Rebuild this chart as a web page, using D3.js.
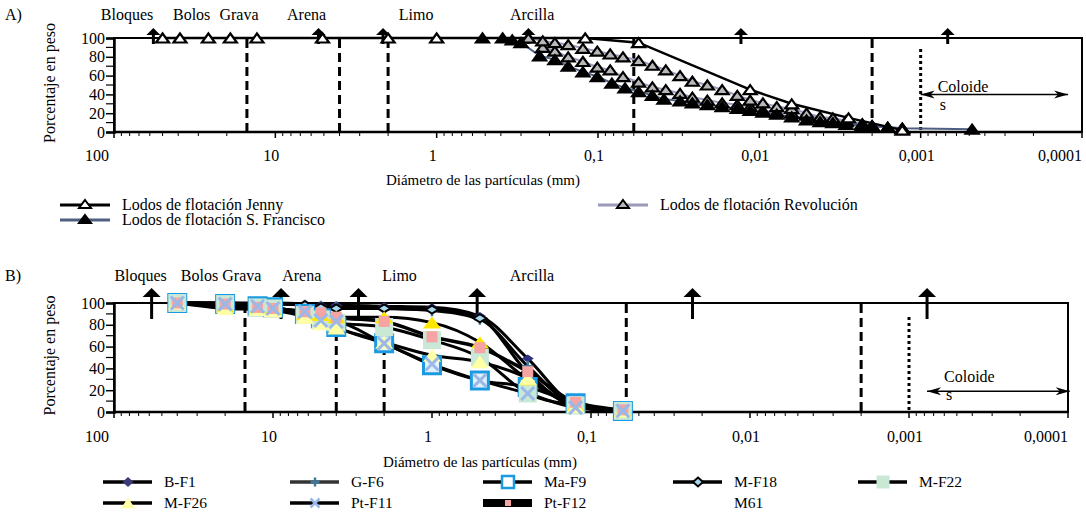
<!DOCTYPE html>
<html><head><meta charset="utf-8">
<script src="https://cdn.jsdelivr.net/npm/d3@7"></script>
<style>body{margin:0;background:#fff}svg{display:block;font-family:"Liberation Serif","Times New Roman",serif}text{font-family:"Liberation Serif","Times New Roman",serif;fill:#000}</style>
</head><body><svg id="c" width="1086" height="515"></svg>
<script>
// ---------- data ----------
const tickValues = [100, 10, 1, 0.1, 0.01, 0.001, 0.0001];
const tickLabels = ["100", "10", "1", "0,1", "0,01", "0,001", "0,0001"];
const yTicks = [0, 20, 40, 60, 80, 100];
const yMinorTicks = [10, 30, 50, 70, 90];

const zoneNames = ["Bloques", "Bolos", "Grava", "Arena", "Limo", "Arcilla"];
const zoneDiamA = [83, 33, 16.8, 6.4, 1.34, 0.256];
const zoneDiamB = [68, 29, 15.7, 6.6, 1.6, 0.235];
const boundaryDiam = [15, 4, 2, 0.06, 0.002];
const colloidDiam = 0.001;
const arrowDiamA = [57, 5.4, 2.15, 0.27, 0.013, 0.00068];
const arrowDiamB = [58, 8.9, 2.9, 0.52, 0.023, 0.00077];

// Panel A series
const jennyD = [50, 39, 26, 19, 13, 5.1, 2, 1, 0.12, 0.056, 0.0114, 0.0063, 0.0028, 0.0013];
const jennyP = [100, 100, 100, 100, 100, 100, 100, 100, 100, 95, 45, 30, 15, 2];
const revD = [0.27, 0.22, 0.185, 0.153, 0.124, 0.101, 0.084, 0.07, 0.056, 0.046, 0.038, 0.031, 0.026, 0.021, 0.017, 0.0137, 0.0114, 0.0095, 0.0078, 0.0063, 0.0051, 0.0042, 0.0035, 0.0029, 0.0023, 0.002, 0.0016, 0.0013];
const revP = [100, 97, 95, 93, 89, 86, 83, 80, 76, 71, 66, 60, 54, 50, 45, 39, 34, 31, 27, 25, 20, 16, 15, 12, 9, 7, 5, 4];
const rev2P = [100, 90, 86, 80, 75, 69, 66, 59, 53, 48, 45, 41, 37, 34, 31, 29, 27, 23, 21, 20, 18, 15, 13, 11, 8, 6, 5, 3];
const sfD = [0.52, 0.39, 0.34, 0.30, 0.23, 0.185, 0.153, 0.124, 0.101, 0.082, 0.068, 0.056, 0.046, 0.039, 0.031, 0.026, 0.021, 0.017, 0.0137, 0.0114, 0.0095, 0.0078, 0.0063, 0.0051, 0.0042, 0.0035, 0.0029, 0.0023, 0.002, 0.0016, 0.0013, 0.00048];
const sfP = [100, 100, 98, 95, 81, 77, 70, 64, 59, 52, 47, 43, 39, 35, 33, 31, 29, 27, 25, 23, 21, 19, 16, 13, 11, 10, 8, 7, 6, 5, 4, 3];

// Panel B series
const sievesB = [40, 20, 12.5, 10, 6.3, 5, 4, 2, 1, 0.5, 0.25, 0.125, 0.063];
const bNames = ["B-F1", "G-F6", "Ma-F9", "M-F18", "M-F22", "M-F26", "Pt-F11", "Pt-F12", "M61"];
const bF1 = [100, 100, 100, 100, 99, 98, 98, 97, 96, 88, 49, 7, 1];
const gF6 = [100, 100, 99, 99, 98, 97, 96, 95, 93, 85, 42, 6, 1];
const maF9 = [100, 99, 97, 96, 90, 86, 78, 63, 43, 29, 23, 8, 1];
const mF18 = [100, 100, 99, 99, 98, 96, 95, 95, 94, 86, 36, 5, 1];
const mF22 = [100, 99, 96, 95, 89, 85, 82, 78, 66, 50, 17, 6, 1];
const mF26 = [100, 95, 94, 93, 87, 81, 77, 64, 52, 46, 31, 5, 1];
const ptF11 = [100, 99, 97, 95, 92, 84, 83, 63, 44, 29, 17, 4, 1];
const ptF12 = [100, 99, 96, 95, 92, 91, 87, 83, 69, 59, 37, 9, 2];
const m61 = [100, 97, 95, 94, 90, 89, 87, 87, 82, 64, 30, 6, 1];

// ---------- drawing ----------
const svg = d3.select("#c");
const SERIF = '"Liberation Serif","Times New Roman",serif';

function triPath(w, h) { return `M0,${-h / 2}L${w / 2},${h / 2}L${-w / 2},${h / 2}Z`; }
function sqPath(s) { return `M${-s / 2},${-s / 2}h${s}v${s}h${-s}Z`; }
function diaPath(w, h) { return `M0,${-h / 2}L${w / 2},0L0,${h / 2}L${-w / 2},0Z`; }
function plusPath(s) { return `M${-s / 2},0H${s / 2}M0,${-s / 2}V${s / 2}`; }
function xPath(s) { return `M${-s / 2},${-s / 2}L${s / 2},${s / 2}M${s / 2},${-s / 2}L${-s / 2},${s / 2}`; }

function drawFrame(g, x, y, cfg) {
  const [x0, x1] = x.range();
  const [yb, yt] = y.range();
  g.append("rect").attr("x", x0).attr("y", yt).attr("width", x1 - x0).attr("height", yb - yt)
    .attr("fill", "none").attr("stroke", "#000").attr("stroke-width", 2);
  const ya = g.append("g").attr("transform", `translate(${x0},0)`)
    .call(d3.axisLeft(y).tickValues(yTicks).tickSize(8).tickPadding(1).tickFormat(d3.format("d")));
  ya.attr("font-family", SERIF);
  ya.select(".domain").attr("stroke-width", 2.5);
  ya.selectAll(".tick line").attr("stroke-width", 1.5);
  ya.selectAll("text").style("font-size", "16px").style("font-family", SERIF);
  g.append("g").selectAll("line").data(yMinorTicks).join("line")
    .attr("x1", x0 - 8).attr("x2", x0).attr("y1", d => y(d)).attr("y2", d => y(d))
    .attr("stroke", "#000").attr("stroke-width", 1.2);
  g.append("line").attr("x1", x0).attr("x2", x1).attr("y1", yb).attr("y2", yb)
    .attr("stroke", "#000").attr("stroke-width", 2.5);
  const minor = [];
  tickValues.forEach((t, i) => {
    if (i < tickValues.length - 1) for (let k = 2; k <= 9; k++) minor.push(t / 10 * k);
  });
  g.append("g").selectAll("line").data(minor).join("line")
    .attr("x1", d => x(d)).attr("x2", d => x(d)).attr("y1", yb).attr("y2", yb + 4)
    .attr("stroke", "#000").attr("stroke-width", 1);
  g.append("g").selectAll("line").data(tickValues).join("line")
    .attr("x1", d => x(d)).attr("x2", d => x(d)).attr("y1", yb).attr("y2", yb + 6)
    .attr("stroke", "#000").attr("stroke-width", 1.5);
  g.append("g").selectAll("text").data(tickValues).join("text")
    .attr("x", (d, i) => i === 0 ? x(d) - 5 : (i === tickValues.length - 1 ? x(d) : x(d) - 4))
    .attr("y", yb + cfg.tickLabelDy)
    .attr("text-anchor", (d, i) => (i === 0 || i === tickValues.length - 1) ? "end" : "middle")
    .style("font-size", "16px").text((d, i) => tickLabels[i]);
  g.append("text").attr("x", cfg.xTitleX).attr("y", cfg.xTitleY).attr("text-anchor", "middle")
    .style("font-size", "15px").text("Diámetro de las partículas (mm)");
  g.append("text").attr("transform", `translate(${cfg.yTitleX},${(yb + yt) / 2 - 2}) rotate(-90)`)
    .attr("text-anchor", "middle").style("font-size", "16px").text("Porcentaje en peso");
  g.append("text").attr("x", 5).attr("y", cfg.letterY).style("font-size", "16px").text(cfg.letter);
  g.append("g").selectAll("text").data(zoneNames).join("text")
    .attr("x", (d, i) => x(cfg.zoneDiam[i])).attr("y", cfg.letterY).attr("text-anchor", "middle")
    .style("font-size", "16px").text(d => d);
  g.append("g").selectAll("line").data(boundaryDiam).join("line")
    .attr("x1", d => x(d)).attr("x2", d => x(d)).attr("y1", yt + 1).attr("y2", yb)
    .attr("stroke", "#000").attr("stroke-width", 3).attr("stroke-dasharray", "9,5");
  g.append("line").attr("x1", x(colloidDiam)).attr("x2", x(colloidDiam))
    .attr("y1", yt + cfg.dotTop).attr("y2", yb).attr("stroke", "#000").attr("stroke-width", 3)
    .attr("stroke-dasharray", "3,3");
}

function drawArrows(g, x, diams, tipY, baseY, stemY, hw) {
  const a = g.append("g").selectAll("g").data(diams).join("g")
    .attr("transform", d => `translate(${x(d)},0)`);
  a.append("line").attr("x1", 0).attr("x2", 0).attr("y1", baseY - 1).attr("y2", stemY)
    .attr("stroke", "#000").attr("stroke-width", 3);
  a.append("path").attr("d", `M0,${tipY}L${hw},${baseY}L${-hw},${baseY}Z`).attr("fill", "#000");
}

function drawColloid(g, x, y, d0, d1, p, textY, sY) {
  const xa = x(d0), xb = x(d1), yy = y(p);
  g.append("line").attr("x1", xa).attr("x2", xb).attr("y1", yy).attr("y2", yy)
    .attr("stroke", "#000").attr("stroke-width", 1.5);
  g.append("path").attr("d", `M${xa},${yy}L${xa + 14},${yy - 4}L${xa + 10},${yy}L${xa + 14},${yy + 4}Z`);
  g.append("path").attr("d", `M${xb},${yy}L${xb - 14},${yy - 4}L${xb - 10},${yy}L${xb - 14},${yy + 4}Z`);
  g.append("text").attr("x", xa + 17).attr("y", textY).style("font-size", "16px").text("Coloide");
  g.append("text").attr("x", xa + 19).attr("y", sY).style("font-size", "16px").text("s");
}

// ---------- Panel A ----------
const xA = d3.scaleLog().domain([100, 0.0001]).range([114, 1082]);
const yA = d3.scaleLinear().domain([0, 100]).range([132, 38]);
const gA = svg.append("g");
drawFrame(gA, xA, yA, { tickLabelDy: 29, xTitleX: 483, xTitleY: 185, yTitleX: 55, letter: "A)", letterY: 20, zoneDiam: zoneDiamA, dotTop: 11 });
drawArrows(gA, xA, arrowDiamA, 28, 35, 44, 7);

const seriesA = [
  { d: revD, p: rev2P, line: "#9a9abb", lw: 2, fill: "#b8b8b8", stroke: "#000" },
  { d: revD, p: revP, line: "#9a9abb", lw: 2, fill: "#b8b8b8", stroke: "#000" },
  { d: sfD, p: sfP, line: "#4e5f82", lw: 2, fill: "#000", stroke: "#000" },
  { d: jennyD, p: jennyP, line: "#000", lw: 2.5, fill: "#fff", stroke: "#000" }
];
const lineA = d3.line().x(d => xA(d[0])).y(d => yA(d[1]));
seriesA.forEach(s => {
  gA.append("path").attr("d", lineA(s.d.map((v, i) => [v, s.p[i]])))
    .attr("fill", "none").attr("stroke", s.line).attr("stroke-width", s.lw);
});
seriesA.forEach(s => {
  gA.append("g").selectAll("path").data(s.d.map((v, i) => [v, s.p[i]])).join("path")
    .attr("transform", d => `translate(${xA(d[0])},${yA(d[1])})`)
    .attr("d", triPath(13, 9)).attr("fill", s.fill).attr("stroke", s.stroke).attr("stroke-width", 2.2);
});
drawColloid(gA, xA, yA, colloidDiam, 0.000122, 40, 92, 110);

const legA = [
  { name: "Lodos de flotación Jenny", x: 60, y: 205, line: "#000", fill: "#fff" },
  { name: "Lodos de flotación S. Francisco", x: 60, y: 220, line: "#4e5f82", fill: "#000" },
  { name: "Lodos de flotación Revolución", x: 598, y: 205, line: "#9a9abb", fill: "#b8b8b8" }
];
const la = gA.append("g").selectAll("g").data(legA).join("g").attr("transform", d => `translate(${d.x},${d.y})`);
la.append("line").attr("x1", 0).attr("x2", 50).attr("y1", 0).attr("y2", 0).attr("stroke", d => d.line).attr("stroke-width", 3);
la.append("path").attr("transform", "translate(25,-1)").attr("d", triPath(12, 8)).attr("fill", d => d.fill).attr("stroke", "#000").attr("stroke-width", 2);
la.append("text").attr("x", 62).attr("y", 5).style("font-size", "16px").text(d => d.name);

// ---------- Panel B ----------
const xB = d3.scaleLog().domain([100, 0.0001]).range([114, 1068]);
const yB = d3.scaleLinear().domain([0, 100]).range([412, 303]);
const gB = svg.append("g");
drawFrame(gB, xB, yB, { tickLabelDy: 30, xTitleX: 480, xTitleY: 467, yTitleX: 55, letter: "B)", letterY: 281, zoneDiam: zoneDiamB, dotTop: 14 });
drawArrows(gB, xB, arrowDiamB, 288, 297, 319, 9);

const bValues = [bF1, gF6, maF9, mF18, mF22, mF26, ptF11, ptF12, m61];
const bStyle = {
  "B-F1": { path: diaPath(12, 8), fill: "#2e2e80", stroke: "none", sw: 0, lw: 3 },
  "G-F6": { path: plusPath(11), fill: "none", stroke: "#3d7a9a", sw: 2.5, lw: 3 },
  "Ma-F9": { path: sqPath(17), fill: "#e3f1fa", stroke: "#1a9ae0", sw: 3, lw: 3 },
  "M-F18": { path: diaPath(13, 8), fill: "#a8d8f0", stroke: "#000", sw: 2, lw: 3 },
  "M-F22": { path: sqPath(18), fill: "#c9e8d5", stroke: "none", sw: 0, lw: 3 },
  "M-F26": { path: triPath(18, 13), fill: "#ffffa6", stroke: "none", sw: 0, lw: 3 },
  "Pt-F11": { path: xPath(13), fill: "none", stroke: "#9ab8e8", sw: 3, lw: 3 },
  "Pt-F12": { path: sqPath(11), fill: "#f5a3a3", stroke: "none", sw: 0, lw: 3.5 },
  "M61": { path: triPath(18, 12), fill: "#ffe600", stroke: "none", sw: 0, lw: 3 }
};
const lineB = d3.line().curve(d3.curveMonotoneX).x(d => xB(d[0])).y(d => yB(d[1]));
bNames.forEach((n, k) => {
  gB.append("path").attr("d", lineB(sievesB.map((s, i) => [s, bValues[k][i]])))
    .attr("fill", "none").attr("stroke", "#000").attr("stroke-width", bStyle[n].lw);
});
const drawOrder = ["B-F1", "G-F6", "M-F18", "Ma-F9", "M-F22", "M61", "M-F26", "Pt-F12", "Pt-F11"];
drawOrder.forEach(n => {
  const k = bNames.indexOf(n), st = bStyle[n];
  gB.append("g").selectAll("path").data(sievesB.map((s, i) => [s, bValues[k][i]])).join("path")
    .attr("transform", d => `translate(${xB(d[0])},${yB(d[1])})`)
    .attr("d", st.path).attr("fill", st.fill).attr("stroke", st.stroke).attr("stroke-width", st.sw);
});
drawColloid(gB, xB, yB, 0.00077, 0.0000975, 19, 382, 400);

const legPos = [[103, 482], [290, 482], [483, 482], [673, 482], [858, 482], [103, 503], [290, 503], [483, 503], [673, 503]];
const legStyle = {
  "B-F1": { path: diaPath(11, 10), fill: "#3a3a78", stroke: "none", sw: 0 },
  "G-F6": { path: plusPath(9), fill: "none", stroke: "#3d7a9a", sw: 2.5 },
  "Ma-F9": { path: sqPath(12), fill: "#fff", stroke: "#1a9ae0", sw: 2.5 },
  "M-F18": { path: diaPath(10, 9), fill: "#a8d8f0", stroke: "#000", sw: 2 },
  "M-F22": { path: sqPath(13), fill: "#c9e8d5", stroke: "none", sw: 0 },
  "M-F26": { path: triPath(14, 11), fill: "#ffffa6", stroke: "none", sw: 0 },
  "Pt-F11": { path: xPath(9), fill: "none", stroke: "#9ab8e8", sw: 2.5 },
  "Pt-F12": { path: sqPath(6), fill: "#f5a3a3", stroke: "none", sw: 0 },
  "M61": null
};
bNames.forEach((n, k) => {
  const g = gB.append("g").attr("transform", `translate(${legPos[k][0]},${legPos[k][1]})`);
  const st = legStyle[n];
  if (st) {
    g.append("line").attr("x1", 0).attr("x2", 49).attr("y1", 0).attr("y2", 0)
      .attr("stroke", n === "G-F6" ? "#333" : "#000").attr("stroke-width", n === "Pt-F12" ? 8 : 3.5);
    g.append("path").attr("transform", "translate(25,0)").attr("d", st.path)
      .attr("fill", st.fill).attr("stroke", st.stroke).attr("stroke-width", st.sw);
  }
  g.append("text").attr("x", 61).attr("y", 5).style("font-size", "15.5px").text(n);
});
</script></body></html>
